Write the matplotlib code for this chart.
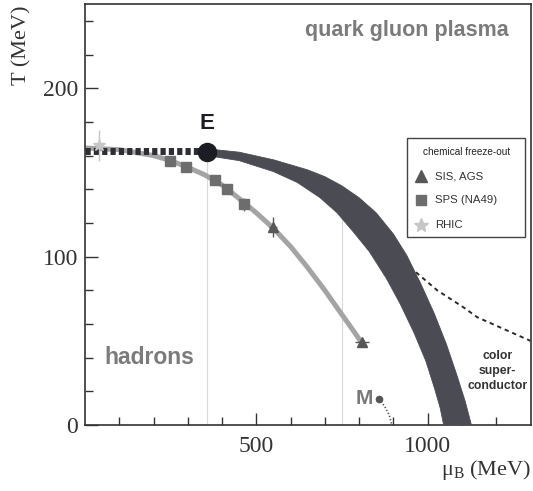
import matplotlib
matplotlib.use("Agg")
import matplotlib.pyplot as plt
from matplotlib.patches import Rectangle

# ---------------- data ----------------
# crossover / first-order band (upper and lower edges), mu_B in MeV, T in MeV
band_upper_mu = [356, 450, 550, 650, 700, 750, 800, 850, 900, 940, 980, 1020, 1055, 1085, 1110, 1128]
band_upper_T = [164, 162, 157.5, 151.5, 147.5, 142, 135, 126, 113.5, 100.5, 84, 66, 48, 30, 14, 0]
band_lower_mu = [356, 450, 550, 620, 686, 736, 782, 830, 880, 920, 960, 995, 1020, 1037, 1047]
band_lower_T = [160, 157, 150.5, 144, 135, 126, 115, 103, 87, 72, 55, 38, 22, 10, 0]

# crossover (dotted thick) line from mu=0 to E
cross_mu = [0, 352]
cross_T = [163, 163]

# critical end point E
E_mu, E_T = 356, 162

# chemical freeze-out curve
fo_mu = [0, 100, 200, 250, 300, 350, 400, 453, 500, 549, 600, 648, 700, 745, 780, 809]
fo_T = [164.5, 163.5, 160, 157, 153, 148.5, 142.5, 134, 126, 117, 106, 94, 80, 67, 57, 48.5]

# data points
sps_mu = [248, 295, 380, 415, 464]
sps_T = [157, 153, 145.5, 140, 131]
sps_err = [3, 3, 3, 3, 4]
ags_mu = [549, 809]
ags_T = [117.5, 49]
ags_xerr = [12, 20]
ags_yerr = [6, 2]
rhic_mu = [40]
rhic_T = [166]
rhic_err = [9]

# nuclear matter point M and its line
M_mu, M_T = 858, 15.5
M_line_mu = [858, 875, 888, 896]
M_line_T = [15.5, 11, 6, 0]

# colour-superconductor boundary (thin dashed)
csc_mu = [930, 1028, 1104, 1145, 1300]
csc_T = [97, 80, 70, 64, 50]

# faint vertical guide lines
vline_mu = [357, 750]
vline_top = [162, 129]

# legend entries
legend_title = "chemical freeze-out"
legend_labels = ["SIS, AGS", "SPS (NA49)", "RHIC"]

# ticks
x_major = [500, 1000]
x_minor = list(range(100, 1300, 100))
y_major = [0, 100, 200]
y_minor = list(range(20, 260, 20))

# ---------------- figure ----------------
plt.rcParams["mathtext.fontset"] = "stix"
fig = plt.figure(figsize=(5.33, 4.91), dpi=100)
ax = fig.add_axes([85 / 533, 1 - 425 / 491, 446 / 533, 421 / 491])
ax.set_xlim(0, 1302)
ax.set_ylim(0, 250)

band_col = "#4b4b53"
sps_col = "#6d6d6d"
ags_col = "#575757"
rhic_col = "#c6c6c6"
sans = "Liberation Sans"

# faint vertical lines
for m, t in zip(vline_mu, vline_top):
    ax.plot([m, m], [0, t], color="#d9d9d9", lw=0.8, zorder=1)

# band
ax.fill(band_upper_mu + band_lower_mu[::-1], band_upper_T + band_lower_T[::-1],
        color=band_col, lw=0.6, ec=band_col, joinstyle="round", zorder=3)

# colour superconductor dashed line
ax.plot(csc_mu, csc_T, color="#2a2a2a", lw=1.4, dashes=(2.2, 2.0), zorder=2)

# freeze-out curve
ax.plot(fo_mu, fo_T, color="#a4a4a4", lw=3.6, solid_capstyle="round",
        solid_joinstyle="round", zorder=2)

# crossover dotted thick line
ax.plot(cross_mu, cross_T, color="#2d2d36", lw=5, dashes=(0.75, 0.45), zorder=4)

# data points
ax.errorbar(sps_mu, sps_T, yerr=sps_err, fmt="s", ms=7, color=sps_col,
            ecolor=sps_col, elinewidth=1, capsize=0, zorder=5)
ax.errorbar(ags_mu, ags_T, xerr=ags_xerr, yerr=ags_yerr, fmt="^", ms=7,
            color=ags_col, ecolor=ags_col, elinewidth=1, capsize=0, zorder=5)
ax.errorbar(rhic_mu, rhic_T, yerr=rhic_err, fmt="*", ms=9, color=rhic_col,
            ecolor=rhic_col, elinewidth=1, capsize=0, zorder=5)

# E point
ax.plot([E_mu], [E_T], "o", ms=13, color="#1c1c24", zorder=6)
ax.text(E_mu, 179, "E", fontsize=16, fontweight="bold", color="#1c1c24",
        family=sans, ha="center", va="center")

# M point
ax.plot([M_mu], [M_T], "o", ms=4.5, color="#555555", zorder=6)
ax.plot(M_line_mu, M_line_T, color="#555555", lw=1.2, dashes=(0.8, 1.2), zorder=5)
ax.text(M_mu - 17, 16, "M", fontsize=15, fontweight="bold", color="#7a7a7a",
        family=sans, ha="right", va="center")

# region labels
ax.text(1238, 234, "quark gluon plasma", fontsize=15.5, fontweight="bold",
        color="#7b7b7b", family=sans, ha="right", va="center")
ax.text(58, 40, "hadrons", fontsize=16.5, fontweight="bold",
        color="#7b7b7b", family=sans, ha="left", va="center")
ax.text(1205, 32, "color\nsuper-\nconductor", fontsize=8.8, fontweight="bold",
        color="#333333", family=sans, ha="center", va="center",
        linespacing=1.3)

# legend (manual box in axes coordinates)
tA = ax.transAxes
ax.add_patch(Rectangle((0.722, 0.4466), 0.2645, 0.2351, transform=tA, fill=True,
                       fc="white", ec="#444444", lw=1.0, zorder=7))
ax.text(0.758, 0.6485, legend_title, transform=tA, fontsize=7.2, family=sans,
        color="#222222", ha="left", va="center", zorder=8)
leg_markers = [("^", 8, ags_col), ("s", 7.5, sps_col), ("*", 10.5, rhic_col)]
leg_y = [0.5914, 0.5344, 0.4751]
for (mk, ms, col), yy, lab in zip(leg_markers, leg_y, legend_labels):
    ax.plot([0.7534], [yy], mk, ms=ms, color=col, transform=tA, zorder=8,
            clip_on=False)
    ax.text(0.7848, yy, lab, transform=tA, fontsize=8.2, family=sans,
            color="#333333", ha="left", va="center", zorder=8)

# ticks
ax.set_xticks(x_major)
ax.set_xticks(x_minor, minor=True)
ax.set_yticks(y_major)
ax.set_yticks(y_minor, minor=True)
ax.tick_params(which="both", direction="in", color="#333333", width=1.0)
ax.tick_params(which="major", length=9)
ax.tick_params(which="minor", length=6)
ax.tick_params(axis="x", which="major", pad=8)
ax.tick_params(axis="y", which="major", pad=5)
for lab in ax.get_xticklabels() + ax.get_yticklabels():
    lab.set_fontfamily("Liberation Serif")
    lab.set_fontsize(17)
    lab.set_color("#333333")
for s in ax.spines.values():
    s.set_color("#333333")
    s.set_linewidth(1.2)

# axis labels
fig.text(22 / 533, 1 - 45 / 491, "T (MeV)", rotation=90, fontsize=16,
         family="Liberation Serif", ha="center", va="center", color="#333333")
fig.text(486 / 533, 1 - 470 / 491, r"$\mathregular{\mu_B}$ (MeV)", fontsize=16,
         family="Liberation Serif", ha="center", va="center", color="#333333")

fig.savefig("out.png", dpi=100)
